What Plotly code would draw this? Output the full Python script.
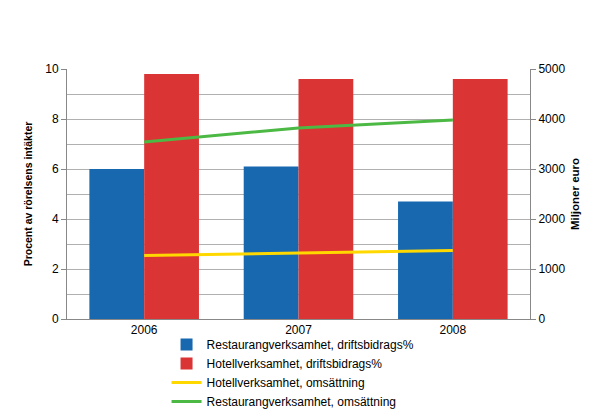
import plotly.graph_objects as go

years = ["2006", "2007", "2008"]
rest_bidrag = [6.0, 6.1, 4.7]
hotell_bidrag = [9.8, 9.6, 9.6]
hotell_oms = [1270, 1325, 1370]
rest_oms = [3540, 3820, 3980]

BLUE = "#1868B0"
RED = "#DB3434"
YELLOW = "#FFD800"
GREEN = "#4CB944"
GRID = "#B0B0B0"

fig = go.Figure()
fig.add_trace(go.Bar(x=years, y=rest_bidrag, name="Restaurangverksamhet, driftsbidrags%",
                     marker=dict(color=BLUE, line=dict(width=0))))
fig.add_trace(go.Bar(x=years, y=hotell_bidrag, name="Hotellverksamhet, driftsbidrags%",
                     marker=dict(color=RED, line=dict(width=0))))
fig.add_trace(go.Scatter(x=years, y=hotell_oms, name="Hotellverksamhet, omsättning",
                         mode="lines", yaxis="y2", line=dict(color=YELLOW, width=3)))
fig.add_trace(go.Scatter(x=years, y=rest_oms, name="Restaurangverksamhet, omsättning",
                         mode="lines", yaxis="y2", line=dict(color=GREEN, width=3)))

font = dict(family="Liberation Sans, Arial, sans-serif", size=12, color="black")

fig.update_layout(
    width=609, height=410,
    margin=dict(l=67, r=79, t=69, b=91, autoexpand=False),
    paper_bgcolor="white", plot_bgcolor="white",
    font=font,
    barmode="group", bargap=0.29, bargroupgap=0,
    showlegend=True,
    legend=dict(x=0.215, y=-0.044, xanchor="left", yanchor="top",
                font=dict(size=12), tracegroupgap=0, itemwidth=30,
                bgcolor="rgba(0,0,0,0)"),
    xaxis=dict(showline=True, linecolor="#888888", linewidth=1,
               ticks="", showgrid=False, tickfont=dict(size=12)),
    yaxis=dict(range=[0, 10], dtick=2, showline=True, linecolor="#888888",
               linewidth=1, ticks="outside", ticklen=5, tickcolor="#888888",
               showgrid=True, gridcolor=GRID, gridwidth=1, zeroline=False,
               minor=dict(dtick=1, showgrid=True, gridcolor=GRID, ticks=""),
               title=dict(text="<b>Procent av rörelsens intäkter</b>", font=dict(size=10.5),
                          standoff=10)),
    yaxis2=dict(range=[0, 5000], dtick=1000, overlaying="y", side="right",
                showline=True, linecolor="#888888", linewidth=1,
                ticks="outside", ticklen=5, tickcolor="#888888",
                showgrid=False, zeroline=False,
                title=dict(text="<b>Miljoner euro</b>", font=dict(size=11.5), standoff=6)),
)

# drop the browser's default body margin so the figure sits at the page corner
fig.write_html("out.html", config={"displayModeBar": False},
               post_script="document.body.style.margin='0';document.body.style.overflow='hidden';")
